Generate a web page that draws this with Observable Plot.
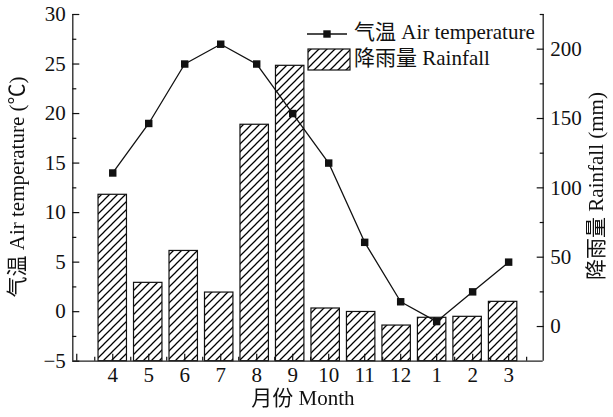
<!DOCTYPE html>
<html><head><meta charset="utf-8">
<script src="https://cdn.jsdelivr.net/npm/d3@7"></script>
<script src="https://cdn.jsdelivr.net/npm/@observablehq/plot@0.6"></script>
<style>
body{margin:0;background:#fff;}
#chart{position:relative;width:613px;height:417px;}
#chart svg text{-webkit-font-smoothing:antialiased;}
</style></head><body><div id="chart"></div>
<script>
// ---- data ----
const months = [4, 5, 6, 7, 8, 9, 10, 11, 12, 1, 2, 3];
const temperature = [14, 19, 25, 27, 25, 20, 15, 7, 1, -1, 2, 5];
const rainfall = [95, 31.5, 54.5, 24.5, 145.5, 188, 13, 10.5, 0.7, 6.3, 7, 17.8];
const tempTicks = [-5, 0, 5, 10, 15, 20, 25, 30];
const tempMinorTicks = [-2.5, 2.5, 7.5, 12.5, 17.5, 22.5, 27.5];
const rainTicks = [0, 50, 100, 150, 200];
const rainMinorTicks = [25, 75, 125, 175, 225];
const tempDomain = [-5, 30];
const rainDomain = [-25, 225];
const xDomain = [-0.11, 12.96];
const labels = {
  x: "月份 Month",
  yLeft: "气温 Air temperature (℃)",
  yRight: "降雨量 Rainfall (mm)",
  temp: "气温 Air temperature",
  rain: "降雨量 Rainfall"
};

// ---- helpers ----
// the bar layer of the original uses a marginally tighter category step than the line layer
const barStep = 0.986;
const half = 0.395;
const toT = r => tempDomain[0] + (r - rainDomain[0]) * (tempDomain[1] - tempDomain[0]) / (rainDomain[1] - rainDomain[0]);
const fromT = t => rainDomain[0] + (t - tempDomain[0]) * (rainDomain[1] - rainDomain[0]) / (tempDomain[1] - tempDomain[0]);
const rows = months.map((m, i) => ({
  idx: i + 1, barX: 1 + i * barStep, month: m,
  temp: temperature[i], rain: rainfall[i], rainT: toT(rainfall[i])
}));
const idxTicks = rows.map(d => d.idx);
const xMajor = d3.range(0, 13);
const xMinor = d3.range(0.5, 12.6, 1);
const FONT = "'Liberation Serif', 'Noto Sans CJK SC', serif";
const FS = 21;
const INK = "#111";

const chart = Plot.plot({
  width: 613,
  height: 417,
  marginLeft: 72.3,
  marginRight: 70.3,
  marginTop: 14,
  marginBottom: 56.3,
  style: {fontFamily: FONT, fontSize: FS + "px", color: INK, background: "white"},
  x: {domain: xDomain},
  y: {domain: tempDomain},
  marks: [
    // bars (rainfall, mapped onto the left scale)
    Plot.rect(rows, {x1: d => d.barX - half, x2: d => d.barX + half, y1: () => tempDomain[0], y2: "rainT",
      fill: "url(#hatch)", stroke: INK, strokeWidth: 1.2}),
    // temperature line
    Plot.line(rows, {x: "idx", y: "temp", stroke: INK, strokeWidth: 1.3}),
    Plot.dot(rows, {x: "idx", y: "temp", symbol: "square", r: 4.2, fill: INK, stroke: "none"}),
    // axis lines
    Plot.ruleX(xDomain, {stroke: "#222", strokeWidth: 1.3}),
    Plot.ruleY([tempDomain[0]], {stroke: "#222", strokeWidth: 1.3}),
    // left axis
    Plot.axisY(tempTicks, {anchor: "left", tickSize: 0, tickPadding: 7, label: null, fontSize: FS}),
    Plot.axisY(tempTicks, {anchor: "left", tickSize: 7, dx: 7, fill: "none", strokeWidth: 1.2}),
    Plot.axisY(tempMinorTicks, {anchor: "left", tickSize: 4, dx: 4, fill: "none", strokeWidth: 1.2}),
    // right axis (rainfall)
    Plot.axisY(rainTicks.map(toT), {anchor: "right", tickSize: 0, tickPadding: 7, label: null, fontSize: FS,
      tickFormat: t => String(Math.round(fromT(t)))}),
    Plot.axisY(rainTicks.map(toT), {anchor: "right", tickSize: 7, dx: -7, fill: "none", strokeWidth: 1.2}),
    Plot.axisY(rainMinorTicks.map(toT), {anchor: "right", tickSize: 4, dx: -4, fill: "none", strokeWidth: 1.2}),
    // bottom axis
    Plot.axisX(idxTicks, {anchor: "bottom", tickSize: 0, tickPadding: 6, label: null, fontSize: FS,
      tickFormat: i => String(months[i - 1])}),
    Plot.axisX(xMajor, {anchor: "bottom", tickSize: 7, dy: -7, fill: "none", strokeWidth: 1.2}),
    Plot.axisX(xMinor, {anchor: "bottom", tickSize: 4, dy: -4, fill: "none", strokeWidth: 1.2})
  ]
});

document.getElementById("chart").appendChild(chart);

// hatch pattern
const svg = d3.select(chart);
const defs = svg.insert("defs", ":first-child");
const P = 8;
const pat = defs.append("pattern").attr("id", "hatch").attr("patternUnits", "userSpaceOnUse")
  .attr("width", P).attr("height", P);
pat.append("rect").attr("width", P).attr("height", P).attr("fill", "white");
pat.append("path").attr("d", `M-1,1 l2,-2 M0,${P} l${P},${-P} M${P - 1},${P + 1} l2,-2`)
  .attr("stroke", "#000").attr("stroke-width", 1.25);

// axis titles
const tg = svg.append("g").attr("font-family", FONT).attr("font-size", FS).attr("fill", INK)
  .attr("text-anchor", "middle").attr("opacity", 0.999);
tg.append("text").attr("transform", "translate(19,187) rotate(-90)")
  .attr("dominant-baseline", "middle").text(labels.yLeft);
tg.append("text").attr("transform", "translate(598,186) rotate(-90)")
  .attr("dominant-baseline", "middle").text(labels.yRight);
tg.append("text").attr("x", 303).attr("y", 400)
  .attr("dominant-baseline", "middle").text(labels.x);

// legend
const lg = svg.append("g").attr("font-family", FONT).attr("font-size", FS).attr("fill", INK)
  .attr("text-anchor", "start");
lg.append("line").attr("x1", 307).attr("x2", 347).attr("y1", 34).attr("y2", 34)
  .attr("stroke", INK).attr("stroke-width", 1.3);
lg.append("rect").attr("x", 327 - 3.7).attr("y", 34 - 3.7).attr("width", 7.4).attr("height", 7.4).attr("fill", INK);
lg.append("text").attr("x", 354).attr("y", 34).attr("dominant-baseline", "middle").text(labels.temp);
lg.append("rect").attr("x", 308).attr("y", 49).attr("width", 42).attr("height", 21)
  .attr("fill", "url(#hatch)").attr("stroke", INK).attr("stroke-width", 1.2);
lg.append("text").attr("x", 354).attr("y", 60).attr("dominant-baseline", "middle").text(labels.rain);
</script>
</body></html>
